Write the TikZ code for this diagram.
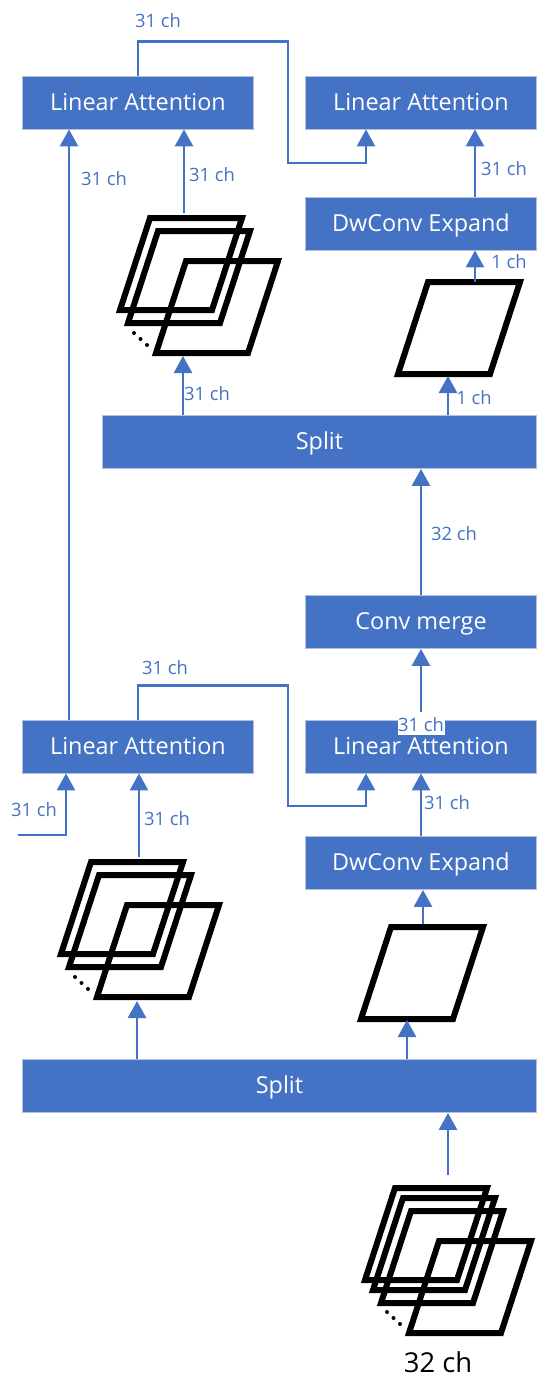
\documentclass[tikz,border=0pt]{standalone}
\usepackage{fontspec}
\setmainfont{Open Sans}
\usetikzlibrary{arrows.meta}
\definecolor{flowblue}{HTML}{4472C4}
\definecolor{boxedge}{HTML}{B4C0D8}
\tikzset{
    blockbox/.style={fill=flowblue, draw=boxedge, line width=0.4pt, text=white, font=\fontsize{11.7}{14}\selectfont, minimum height=26.5pt, inner sep=0pt, text height=9.4pt, text depth=1.6pt},
    wide/.style={minimum width=115.5pt},
    chlabel/.style={text=flowblue, font=\fontsize{9.2}{11}\selectfont, inner sep=0pt},
    link/.style={draw=flowblue, line width=1.35pt},
    arrow/.style={link, -{Triangle[length=8.5pt,width=9pt]}},
    sheet/.style={draw=black, line width=3pt, miter limit=10},
}
\newcommand{\sheetat}[2]{\draw[sheet] (#1,#2) -- ++(92,0) -- ++(-30,92) -- ++(-92,0) -- cycle;}
\newcommand{\sheetdots}[2]{\foreach \k in {0,1,2} {\fill (#1+6.5*\k,#2+6*\k) circle (1pt);}}
\begin{document}
\begin{tikzpicture}[x=0.5pt,y=-0.5pt]
        \useasboundingbox (0,0) rectangle (539,1397);
        % upper half
        \node[blockbox, wide] (attA) at (138,102.5) {Linear Attention};
        \node[blockbox, wide] (attB) at (421,102.5) {Linear Attention};
        \node[blockbox, wide] (expandA) at (421,223.5) {DwConv Expand};
        \node[blockbox, minimum width=217pt] (splitA) at (319.5,442) {Split};
        \node[blockbox, wide] (merge) at (421,622) {Conv merge};
        % lower half
        \node[blockbox, wide] (attC) at (138,746.5) {Linear Attention};
        \node[blockbox, wide] (attD) at (421,746.5) {Linear Attention};
        \node[blockbox, wide] (expandB) at (421,863) {DwConv Expand};
        \node[blockbox, minimum width=257pt] (splitB) at (279.5,1086) {Split};

        % sheets
        \foreach \dx/\dy in {0/0,8/13,36/43} {\sheetat{150+\dx}{218+\dy}}
        \sheetdots{134}{333}
        \sheetat{428}{282}
        \foreach \dx/\dy in {0/0,8/13,36/43} {\sheetat{91+\dx}{862+\dy}}
        \sheetdots{75}{977}
        \sheetat{391}{927}
        \foreach \dx/\dy in {0/0,8/10,16/23,44/53} {\sheetat{395+\dx}{1188+\dy}}
        \sheetdots{387}{1312}

        % free ends
        \coordinate (stackAtop) at (184,213);
        \coordinate (stackAbot) at (183,356);
        \coordinate (oneAtop) at (475,282);
        \coordinate (oneAbot) at (448,376);
        \coordinate (stackBtop) at (139,857);
        \coordinate (stackBbot) at (137,1001);
        \coordinate (oneBtop) at (423,924);
        \coordinate (oneBbot) at (407,1020);
        \coordinate (stackCtop) at (448,1175);
        \coordinate (skipIn) at (18,835);
        \coordinate (mergeIn) at (421,712);

        % connectors
        \draw[arrow] (attC.north -| 69,0) -- (attA.south -| 69,0);
        \draw[arrow] (attA.north) -- ++(0,-34) -| (288,163) -| ([xshift=-27.5pt]attB.south);
        \draw[arrow] (stackAtop) -- (stackAtop |- attA.south);
        \draw[arrow] (expandA.north -| 475,0) -- (attB.south -| 475,0);
        \draw[arrow] (oneAtop) -- (oneAtop |- expandA.south);
        \draw[arrow] (splitA.north -| stackAbot) -- (stackAbot);
        \draw[arrow] (splitA.north -| oneAbot) -- (oneAbot);
        \draw[arrow] (merge.north) -- (merge.north |- splitA.south);
        \draw[arrow] (mergeIn) -- (mergeIn |- merge.south);
        \draw[arrow] (attC.north) -- ++(0,-34) -| (288,806) -| ([xshift=-27.5pt]attD.south);
        \draw[arrow] (skipIn) -| ([xshift=-36pt]attC.south);
        \draw[arrow] (stackBtop) -- (stackBtop |- attC.south);
        \draw[arrow] (expandB.north) -- (attD.south);
        \draw[arrow] (oneBtop) -- (oneBtop |- expandB.south);
        \draw[arrow] (splitB.north -| stackBbot) -- (stackBbot);
        \draw[arrow] (splitB.north -| oneBbot) -- (oneBbot);
        \draw[arrow] (stackCtop) -- (stackCtop |- splitB.south);

        % labels
        \node[chlabel] (chA) at (158,21) {31 ch};
        \node[chlabel] (chB) at (104,179) {31 ch};
        \node[chlabel] (chC) at (212,175) {31 ch};
        \node[chlabel] (chD) at (504,169) {31 ch};
        \node[chlabel] (chE) at (509,262) {1 ch};
        \node[chlabel] (chF) at (207,394) {31 ch};
        \node[chlabel] (chG) at (474,398) {1 ch};
        \node[chlabel] (chH) at (454,534) {32 ch};
        \node[chlabel] (chI) at (165,668) {31 ch};
        \node[chlabel, fill=white, minimum width=23.5pt, minimum height=10pt] (chJ) at (421,725) {31 ch};
        \node[chlabel] (chK) at (34,810) {31 ch};
        \node[chlabel] (chL) at (167,819) {31 ch};
        \node[chlabel] (chM) at (447,803) {31 ch};
        \node[font=\fontsize{13.7}{16}\selectfont, inner sep=0pt] (total) at (438,1362) {32 ch};
\end{tikzpicture}
\end{document}
